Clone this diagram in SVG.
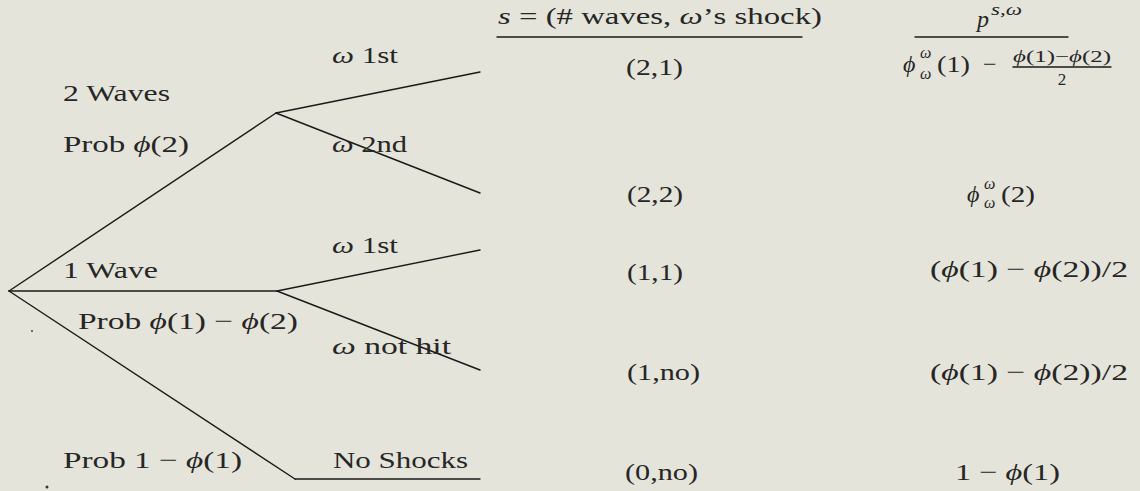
<svg xmlns="http://www.w3.org/2000/svg" width="1140" height="491" viewBox="0 0 1140 491">
<style>
text{font-family:"Liberation Serif","Times New Roman",serif;font-size:24px;fill:#262626}
.i{font-style:italic}
.s{font-size:16px}
.f{font-size:17px}
.ln{stroke:#1a1a1a;stroke-width:1.4;fill:none;stroke-linecap:round}
</style>
<rect width="1140" height="491" fill="#e4e4da"/>
<g id="connectors" class="ln">
<line x1="9" y1="291" x2="276" y2="113"/>
<line x1="9" y1="291" x2="277" y2="291"/>
<line x1="9" y1="291" x2="295" y2="479"/>
<line x1="295" y1="479" x2="480" y2="479"/>
<line x1="276" y1="113" x2="480" y2="72"/>
<line x1="276" y1="113" x2="480" y2="193"/>
<line x1="277" y1="291" x2="480" y2="250"/>
<line x1="277" y1="291" x2="480" y2="370"/>
<line x1="497" y1="37" x2="802" y2="37"/>
<line x1="915" y1="37" x2="1068" y2="37"/>
</g>
<g id="branch-labels">
<text x="332" y="63" textLength="66" lengthAdjust="spacingAndGlyphs"><tspan class="i">ω</tspan> 1st</text>
<text x="63" y="101" textLength="107" lengthAdjust="spacingAndGlyphs">2 Waves</text>
<text x="63" y="152" textLength="126" lengthAdjust="spacingAndGlyphs">Prob <tspan class="i">ϕ</tspan>(2)</text>
<text x="332" y="152" textLength="75" lengthAdjust="spacingAndGlyphs"><tspan class="i">ω</tspan> 2nd</text>
<text x="332" y="253" textLength="66" lengthAdjust="spacingAndGlyphs"><tspan class="i">ω</tspan> 1st</text>
<text x="63" y="278" textLength="95" lengthAdjust="spacingAndGlyphs">1 Wave</text>
<text x="78" y="329" textLength="220" lengthAdjust="spacingAndGlyphs">Prob <tspan class="i">ϕ</tspan>(1) − <tspan class="i">ϕ</tspan>(2)</text>
<text x="332" y="354" textLength="119" lengthAdjust="spacingAndGlyphs"><tspan class="i">ω</tspan> not hit</text>
<text x="63" y="468" textLength="179" lengthAdjust="spacingAndGlyphs">Prob 1 − <tspan class="i">ϕ</tspan>(1)</text>
<text x="333" y="468" textLength="135" lengthAdjust="spacingAndGlyphs">No Shocks</text>
</g>
<g id="state-column">
<text x="498" y="24" textLength="324" lengthAdjust="spacingAndGlyphs"><tspan class="i">s</tspan> = (# waves, <tspan class="i">ω</tspan>’s shock)</text>
<text x="626" y="75" textLength="57" lengthAdjust="spacingAndGlyphs">(2,1)</text>
<text x="627" y="202" textLength="56" lengthAdjust="spacingAndGlyphs">(2,2)</text>
<text x="627" y="280" textLength="56" lengthAdjust="spacingAndGlyphs">(1,1)</text>
<text x="627" y="380" textLength="73" lengthAdjust="spacingAndGlyphs">(1,no)</text>
<text x="625" y="480" textLength="73" lengthAdjust="spacingAndGlyphs">(0,no)</text>
</g>
<g id="prob-column">
<text x="977" y="27" class="i">p</text>
<text x="991" y="15" class="s i" textLength="31" lengthAdjust="spacingAndGlyphs">s,ω</text>
<g id="p21">
<text x="903" y="72" class="i">ϕ</text>
<text x="920" y="58" class="s i">ω</text>
<text x="920" y="79" class="s i">ω</text>
<text x="937" y="72" textLength="33" lengthAdjust="spacingAndGlyphs">(1)</text>
<text x="983" y="72">−</text>
<text x="1013" y="62" class="f" textLength="98" lengthAdjust="spacingAndGlyphs"><tspan class="i">ϕ</tspan>(1)−<tspan class="i">ϕ</tspan>(2)</text>
<line class="ln" x1="1013" y1="67" x2="1111" y2="67" stroke-width="1.2"/>
<text x="1062" y="85" class="f" text-anchor="middle">2</text>
</g>
<g id="p22">
<text x="967" y="202" class="i">ϕ</text>
<text x="984" y="189" class="s i">ω</text>
<text x="984" y="208" class="s i">ω</text>
<text x="1001" y="202" textLength="34" lengthAdjust="spacingAndGlyphs">(2)</text>
</g>
<text x="930" y="277" textLength="198" lengthAdjust="spacingAndGlyphs">(<tspan class="i">ϕ</tspan>(1) − <tspan class="i">ϕ</tspan>(2))/2</text>
<text x="930" y="380" textLength="198" lengthAdjust="spacingAndGlyphs">(<tspan class="i">ϕ</tspan>(1) − <tspan class="i">ϕ</tspan>(2))/2</text>
<text x="955" y="480" textLength="105" lengthAdjust="spacingAndGlyphs">1 − <tspan class="i">ϕ</tspan>(1)</text>
</g>
<circle cx="32" cy="331" r="0.9" fill="#333"/>
<circle cx="47" cy="487" r="1.5" fill="#333"/>
</svg>
